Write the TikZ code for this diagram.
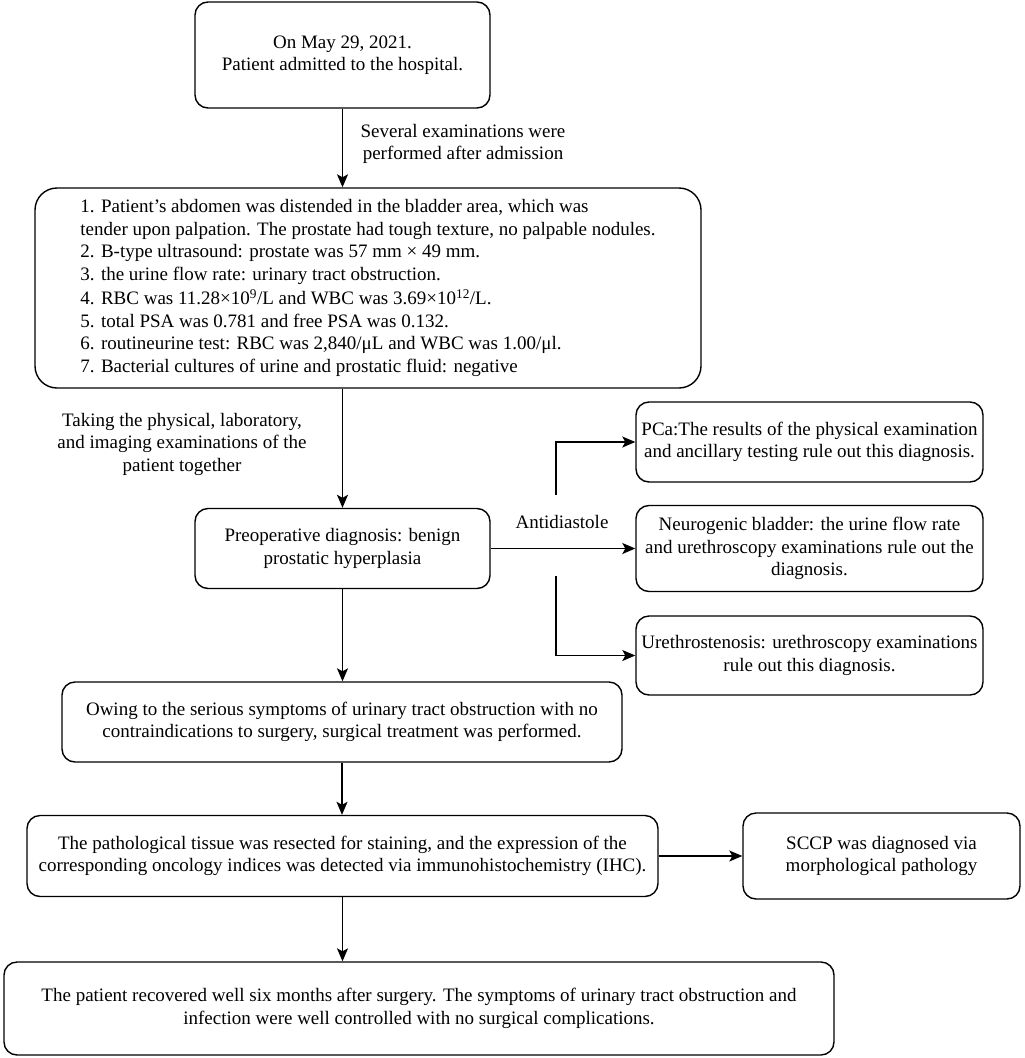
\documentclass[tikz,border=0pt]{standalone}
\usepackage{fontspec}
\setmainfont{Liberation Serif}
\usetikzlibrary{arrows.meta}
\begin{document}
\begin{tikzpicture}[x=1pt,y=-1pt,
  box/.style={draw, line width=1.4pt, rounded corners=13pt, inner sep=0pt, align=center,
    font={\fontsize{19}{22.5}\selectfont}},
  lbl/.style={inner sep=0pt, align=center, font={\fontsize{19}{22.5}\selectfont}},
  conn/.style={line width=1.4pt, -{Stealth[length=13pt,width=11pt,inset=3pt]}},
  seg/.style={line width=1.4pt}]
\useasboundingbox (0,0) rectangle (1025,1058);

\node[box, minimum width=295pt, minimum height=106pt] (b1) at (342.5,55)
  {On May 29, 2021.\\Patient admitted to the hospital.};
\node[box, rounded corners=22pt, minimum width=666pt, minimum height=200pt, align=left] (b2) at (368,288)
  {1. Patient’s abdomen was distended in the bladder area, which was\\
   tender upon palpation. The prostate had tough texture, no palpable nodules.\\
   2. B-type ultrasound: prostate was 57 mm × 49 mm.\\
   3. the urine flow rate: urinary tract obstruction.\\[2pt]
   4. RBC was 11.28×10\textsuperscript{9}/L and WBC was 3.69×10\textsuperscript{12}/L.\\
   5. total PSA was 0.781 and free PSA was 0.132.\\
   6. routineurine test: RBC was 2,840/μL and WBC was 1.00/μl.\\
   7. Bacterial cultures of urine and prostatic fluid: negative};
\node[box, minimum width=295pt, minimum height=80pt] (b3) at (342.5,548.5)
  {Preoperative diagnosis: benign\\prostatic hyperplasia};
\node[box, minimum width=347pt, minimum height=80pt] (pca) at (809.5,442)
  {PCa:The results of the physical examination\\and ancillary testing rule out this diagnosis.};
\node[box, minimum width=347pt, minimum height=86pt] (neu) at (809.5,548.5)
  {Neurogenic bladder: the urine flow rate\\and urethroscopy examinations rule out the\\diagnosis.};
\node[box, minimum width=347pt, minimum height=79pt] (ure) at (809.5,655.5)
  {Urethrostenosis: urethroscopy examinations\\rule out this diagnosis.};
\node[box, minimum width=560pt, minimum height=80pt] (b4) at (342,722)
  {Owing to the serious symptoms of urinary tract obstruction with no\\contraindications to surgery, surgical treatment was performed.};
\node[box, minimum width=631pt, minimum height=81pt] (b5) at (342.5,856)
  {The pathological tissue was resected for staining, and the expression of the\\corresponding oncology indices was detected via immunohistochemistry (IHC).};
\node[box, minimum width=277pt, minimum height=86pt] (sccp) at (881.5,856)
  {SCCP was diagnosed via\\morphological pathology};
\node[box, minimum width=830pt, minimum height=93pt] (b6) at (419,1008.5)
  {The patient recovered well six months after surgery. The symptoms of urinary tract obstruction and\\infection were well controlled with no surgical complications.};

\node[lbl] (l1) at (463,144) {Several examinations were\\performed after admission};
\node[lbl] (l2) at (182,444) {Taking the physical, laboratory,\\and imaging examinations of the\\patient together};
\node[lbl] (l3) at (562,522) {Antidiastole};

\coordinate (up) at (556,495);
\coordinate (dn) at (556,576);

\draw[conn] (b1.south) -- (b1.south |- b2.north);
\draw[conn] (b3.north |- b2.south) -- (b3.north);
\draw[conn] (b3.east) -- (neu.west);
\draw[conn] (up) |- (pca.west);
\draw[conn] (dn) |- (ure.west);
\draw[conn] (b3.south) -- (b3.south |- b4.north);
\draw[conn] (b4.south) -- (b4.south |- b5.north);
\draw[conn] (b5.east) -- (sccp.west);
\draw[conn] (b5.south) -- (b5.south |- b6.north);
\end{tikzpicture}
\end{document}
